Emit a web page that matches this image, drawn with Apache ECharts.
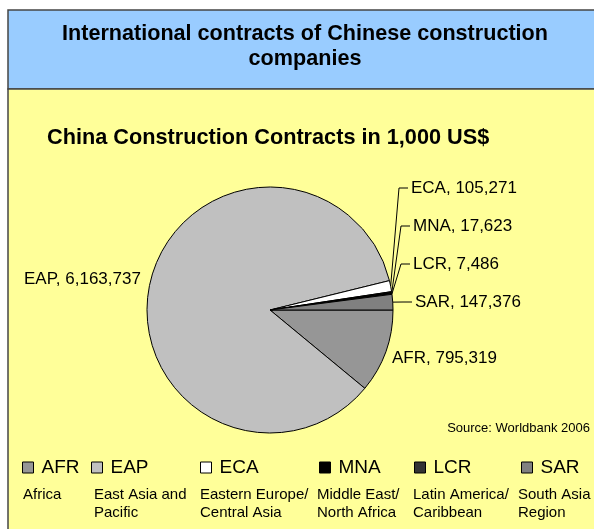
<!DOCTYPE html>
<html>
<head>
<meta charset="utf-8">
<title>International contracts of Chinese construction companies</title>
<script src="https://cdn.jsdelivr.net/npm/echarts@6/dist/echarts.min.js"></script>
<style>
  html, body { margin: 0; padding: 0; background: #ffffff; }
  #chart { width: 594px; height: 529px; }
</style>
</head>
<body>
<div id="chart"></div>
<script>
// Regions (World Bank regional codes), contract values in 1,000 US$
const regions = ['AFR', 'EAP', 'ECA', 'MNA', 'LCR', 'SAR'];
const contractValues = [795319, 6163737, 105271, 17623, 7486, 147376];
const regionNames = [
  'Africa',
  'East Asia and\nPacific',
  'Eastern Europe/\nCentral Asia',
  'Middle East/\nNorth Africa',
  'Latin America/\nCaribbean',
  'South Asia\nRegion'
];
const sliceColors = ['#969696', '#C0C0C0', '#FFFFFF', '#000000', '#333333', '#808080'];

// Layout of the callout labels: left edge and vertical middle of each label
const labelSpots = {
  AFR: { x: 392, y: 358, line: false },
  EAP: { x: 24, y: 279, line: false },
  ECA: { x: 411, y: 188, line: true },
  MNA: { x: 413, y: 226, line: true },
  LCR: { x: 413, y: 264, line: true },
  SAR: { x: 415, y: 302, line: true }
};
const legendLefts = [22, 91, 200, 319, 414, 521];
const descLefts = [23, 94, 200, 317, 413, 518];

const FONT = '"Liberation Sans", Arial, sans-serif';

function fmt(v) {
  return v.toString().replace(/\B(?=(\d{3})+(?!\d))/g, ',');
}

const chart = echarts.init(document.getElementById('chart'), null, { renderer: 'canvas' });

const pieData = regions.map((r, i) => ({
  name: r,
  value: contractValues[i],
  itemStyle: { color: sliceColors[i] },
  labelLine: { show: labelSpots[r].line }
}));

const option = {
  animation: false,
  textStyle: { fontFamily: FONT },
  graphic: [
    {
      type: 'rect', z: -10, silent: true,
      shape: { x: 8, y: 10, width: 600, height: 79 },
      style: { fill: '#99CCFF', stroke: '#454545', lineWidth: 1.5 }
    },
    {
      type: 'rect', z: -10, silent: true,
      shape: { x: 8, y: 89, width: 600, height: 460 },
      style: { fill: '#FFFF99', stroke: '#454545', lineWidth: 1.5 }
    },
    ...regionNames.map((t, i) => ({
      type: 'text', silent: true,
      left: descLefts[i], top: 486,
      style: {
        text: t, fill: '#000', font: '15px ' + FONT, lineHeight: 18
      }
    })),
    {
      type: 'text', silent: true,
      right: 4, top: 422,
      style: { text: 'Source: Worldbank 2006', fill: '#000', font: '13px ' + FONT }
    }
  ],
  title: [
    {
      text: 'International contracts of Chinese construction\ncompanies',
      left: 305, top: 22, textAlign: 'center', padding: 0,
      textStyle: { fontSize: 21.6, fontWeight: 'bold', color: '#000', lineHeight: 25, fontFamily: FONT }
    },
    {
      text: 'China Construction Contracts in 1,000 US$',
      left: 47, top: 127, padding: 0,
      textStyle: { fontSize: 21.7, fontWeight: 'bold', color: '#000', fontFamily: FONT }
    }
  ],
  legend: regions.map((r, i) => ({
    data: [r],
    left: legendLefts[i], top: 458,
    padding: 0,
    itemWidth: 11, itemHeight: 11,
    icon: 'rect',
    selectedMode: false,
    itemStyle: { borderColor: '#000', borderWidth: 1 },
    textStyle: { fontSize: 19, color: '#000', fontFamily: FONT, padding: [0, 0, 0, 3] }
  })),
  series: [
    {
      type: 'pie',
      center: [270, 310],
      radius: 123,
      startAngle: 0,
      clockwise: true,
      avoidLabelOverlap: false,
      itemStyle: { borderColor: '#000', borderWidth: 1 },
      emphasis: { disabled: true },
      label: {
        show: true,
        position: 'outside',
        formatter: p => p.name + ', ' + fmt(p.value),
        fontSize: 17,
        color: '#000',
        fontFamily: FONT
      },
      labelLine: {
        show: true,
        length: 10, length2: 10,
        smooth: false,
        lineStyle: { color: '#000', width: 1 }
      },
      labelLayout: function (params) {
        const spot = labelSpots[regions[params.dataIndex]];
        const out = { x: spot.x, y: spot.y, align: 'left', verticalAlign: 'middle' };
        if (spot.line && params.labelLinePoints) {
          const start = params.labelLinePoints[0];
          out.labelLinePoints = [start, [spot.x - 12, spot.y], [spot.x - 3, spot.y]];
        }
        return out;
      },
      data: pieData
    }
  ]
};

chart.setOption(option);
</script>
</body>
</html>
